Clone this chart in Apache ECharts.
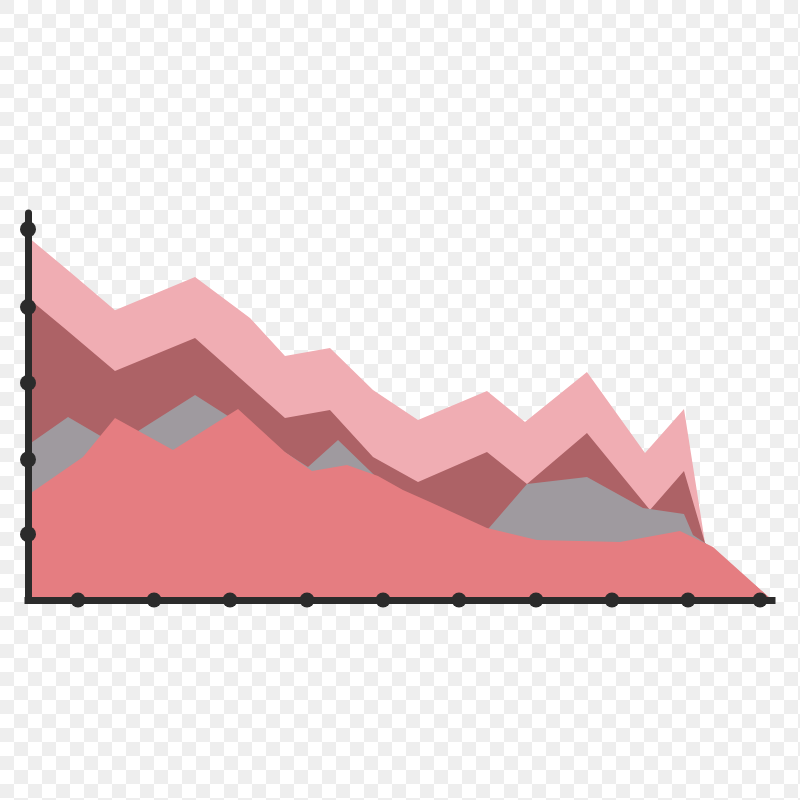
<!DOCTYPE html>
<html>
<head>
<meta charset="utf-8">
<script src="https://cdn.jsdelivr.net/npm/echarts@6/dist/echarts.min.js"></script>
<style>
  html, body { margin: 0; padding: 0; width: 800px; height: 800px; overflow: hidden; }
  body {
    background-color: #ffffff;
    background-image: conic-gradient(#ffffff 25%, #eeeeee 0 50%, #ffffff 0 75%, #eeeeee 0);
    background-size: 28px 28px;
  }
  #chart { width: 800px; height: 800px; }
</style>
</head>
<body>
<div id="chart"></div>
<script>
// Values (x: 0-100 along the axis, y: 0-100 up the axis)
var lightPinkX = [0, 5.65, 11.69, 22.45, 29.84, 34.54, 40.59, 46.37, 52.42, 61.69, 66.8, 75.13, 82.93, 88.17, 91.0, 100];
var lightPinkY = [93.8, 84.75, 74.9, 83.46, 72.87, 63.05, 65.12, 54.26, 46.51, 54.0, 46.0, 58.91, 37.98, 49.35, 14.73, 0];

var darkRoseX = [0, 4.7, 11.69, 22.45, 34.54, 40.59, 46.37, 52.42, 61.69, 67.07, 75.13, 83.6, 88.17, 91.0, 100];
var darkRoseY = [78.04, 70.54, 59.17, 67.7, 47.03, 49.1, 36.95, 30.49, 38.24, 29.97, 43.15, 23.26, 33.33, 14.73, 0];

var grayX = [0, 5.38, 11.83, 22.45, 37.63, 41.67, 50.0, 59.41, 67.07, 75.13, 82.66, 88.17, 89.38, 91.0, 100];
var grayY = [40.05, 47.29, 40.05, 52.97, 34.37, 41.34, 25.84, 12.92, 29.97, 31.78, 23.77, 22.22, 16.8, 14.73, 0];

var salmonX = [0, 7.39, 11.69, 19.49, 28.23, 34.54, 38.17, 42.88, 47.04, 50.4, 54.03, 61.69, 68.41, 79.57, 87.63, 92.07, 100];
var salmonY = [27.13, 36.95, 47.03, 38.76, 49.35, 38.24, 33.33, 34.88, 32.04, 28.42, 25.32, 18.6, 15.5, 14.99, 17.83, 13.7, 0];

var xTickDots = [6.72, 16.94, 27.15, 37.5, 47.72, 57.93, 68.28, 78.49, 88.71, 98.39];
var yTickDots = [95.8, 75.7, 56.1, 36.3, 17.0];

function pairs(xs, ys) {
  var out = [];
  for (var i = 0; i < xs.length; i++) out.push([xs[i], ys[i]]);
  return out;
}

var AXIS = '#2b2b2b';

function areaSeries(xs, ys, color, z) {
  return {
    type: 'line',
    data: pairs(xs, ys),
    symbol: 'none',
    smooth: false,
    z: z,
    lineStyle: { width: 0, color: color },
    areaStyle: { color: color, opacity: 1 },
    silent: true
  };
}

var chart = echarts.init(document.getElementById('chart'), null, { renderer: 'canvas' });
chart.setOption({
  animation: false,
  backgroundColor: 'transparent',
  grid: { left: 28, right: 28, top: 213, bottom: 200, containLabel: false },
  xAxis: {
    type: 'value', min: 0, max: 100,
    splitLine: { show: false },
    axisTick: { show: false },
    axisLabel: { show: false },
    axisLine: { show: true, onZero: false, lineStyle: { color: AXIS, width: 7, cap: 'square' } },
    z: 10
  },
  yAxis: {
    type: 'value', min: 0, max: 100,
    splitLine: { show: false },
    axisTick: { show: false },
    axisLabel: { show: false },
    axisLine: { show: true, onZero: false, lineStyle: { color: AXIS, width: 7 } },
    z: 10
  },
  series: [
    areaSeries(lightPinkX, lightPinkY, '#f0adb3', 2),
    areaSeries(darkRoseX, darkRoseY, '#ad6266', 3),
    areaSeries(grayX, grayY, '#9f9a9f', 4),
    areaSeries(salmonX, salmonY, '#e57d81', 5),
    {
      type: 'scatter',
      data: xTickDots.map(function (v) { return [v, 0]; }),
      symbol: 'circle', symbolSize: 15,
      itemStyle: { color: AXIS, opacity: 1 },
      clip: false, z: 20, zlevel: 1, silent: true
    },
    {
      type: 'scatter',
      data: yTickDots.map(function (v) { return [0, v]; }),
      symbol: 'circle', symbolSize: 16,
      itemStyle: { color: AXIS, opacity: 1 },
      clip: false, z: 20, zlevel: 1, silent: true
    }
  ]
});
</script>
</body>
</html>
